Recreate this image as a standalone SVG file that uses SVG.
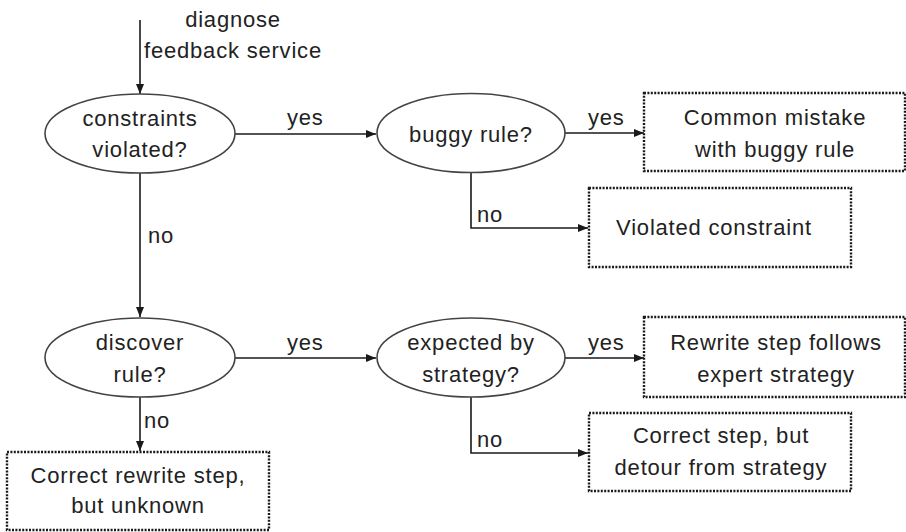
<svg xmlns="http://www.w3.org/2000/svg" width="906" height="532" viewBox="0 0 906 532">
<defs>
<marker id="ah" viewBox="0 0 10 8" refX="10" refY="4" markerWidth="10" markerHeight="8" markerUnits="userSpaceOnUse" orient="auto">
<path d="M0,0 L10,4 L0,8 Z" fill="#1a1a1a"/>
</marker>
<style>
text{font-family:"Liberation Sans",Arial,sans-serif;font-size:22px;fill:#222;letter-spacing:0.8px}
.c{text-anchor:middle}
.ell{fill:#fff;stroke:#444;stroke-width:1.6}
.box{fill:#fff;stroke:#1a1a1a;stroke-width:2.4;stroke-dasharray:2 1.4}
.ln{fill:none;stroke:#1a1a1a;stroke-width:1.6;marker-end:url(#ah)}
</style>
</defs>
<rect width="906" height="532" fill="#fff"/>
<g id="connectors">
<path class="ln" d="M140,20 V94"/>
<path class="ln" d="M235,134 H376"/>
<path class="ln" d="M565,133 H644"/>
<path class="ln" d="M471,172 V228 H588"/>
<path class="ln" d="M140,173 V317"/>
<path class="ln" d="M235,358 H376"/>
<path class="ln" d="M565,358 H644"/>
<path class="ln" d="M471,397 V453 H588"/>
<path class="ln" d="M140,397 V451"/>
</g>
<g id="labels">
<text class="c" x="233" y="27">diagnose</text>
<text class="c" x="233" y="58">feedback service</text>
<text x="287" y="125">yes</text>
<text x="588" y="125">yes</text>
<text x="477" y="222">no</text>
<text x="148" y="243">no</text>
<text x="287" y="350">yes</text>
<text x="588" y="350">yes</text>
<text x="144" y="428">no</text>
<text x="477" y="447">no</text>
</g>
<g id="n-constraints">
<ellipse class="ell" cx="140" cy="133.5" rx="95" ry="39.5"/>
<text class="c" x="140" y="126">constraints</text>
<text class="c" x="140" y="157">violated?</text>
</g>
<g id="n-buggy">
<ellipse class="ell" cx="471" cy="133" rx="94" ry="39.5"/>
<text class="c" x="471" y="142">buggy rule?</text>
</g>
<g id="n-common">
<rect class="box" x="644" y="93" width="261" height="78"/>
<text class="c" x="775" y="125">Common mistake</text>
<text class="c" x="775" y="157">with buggy rule</text>
</g>
<g id="n-violated">
<rect class="box" x="589" y="188" width="262" height="79"/>
<text class="c" x="714" y="235">Violated constraint</text>
</g>
<g id="n-discover">
<ellipse class="ell" cx="140" cy="357.5" rx="95" ry="39.5"/>
<text class="c" x="140" y="350">discover</text>
<text class="c" x="140" y="382">rule?</text>
</g>
<g id="n-expected">
<ellipse class="ell" cx="471" cy="357.5" rx="94" ry="39.5"/>
<text class="c" x="471" y="350">expected by</text>
<text class="c" x="471" y="382">strategy?</text>
</g>
<g id="n-follows">
<rect class="box" x="644" y="317" width="261" height="80"/>
<text class="c" x="776" y="350">Rewrite step follows</text>
<text class="c" x="776" y="382">expert strategy</text>
</g>
<g id="n-detour">
<rect class="box" x="589" y="413" width="262" height="78"/>
<text class="c" x="721" y="443">Correct step, but</text>
<text class="c" x="721" y="475">detour from strategy</text>
</g>
<g id="n-unknown">
<rect class="box" x="7" y="452" width="262" height="78"/>
<text class="c" x="138" y="483">Correct rewrite step,</text>
<text class="c" x="138" y="513">but unknown</text>
</g>
</svg>
